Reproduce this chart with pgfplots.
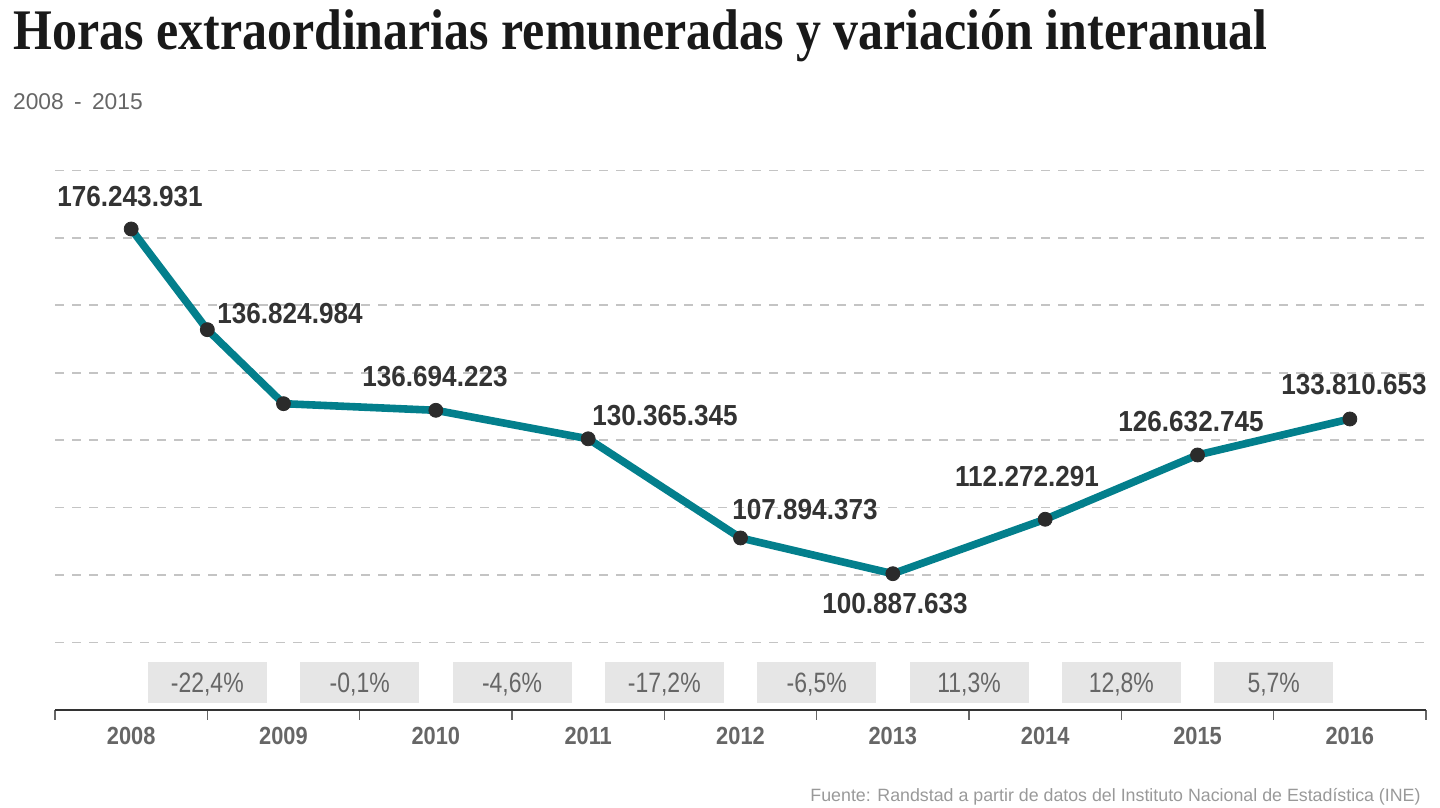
\documentclass[border=0pt]{standalone}
\usepackage{pgfplots}
\pgfplotsset{compat=1.18}
\usepackage{pgfplotstable}
\usepackage{fontspec}
\setmainfont{Liberation Sans}
\newfontfamily\titlefont[FakeStretch=0.87]{Liberation Serif}
\newfontfamily\lblfont[FakeStretch=0.9]{Liberation Sans}
\newfontfamily\yearfont[FakeStretch=0.88]{Liberation Sans}
\newfontfamily\pctfont[FakeStretch=0.82]{Liberation Sans}
\definecolor{teal1}{HTML}{037F8C}
\definecolor{dot}{HTML}{2B2B2B}
\definecolor{lbl}{HTML}{333333}
\definecolor{grey6}{HTML}{666666}
\definecolor{grid}{HTML}{C4C4C4}
\definecolor{boxg}{HTML}{E6E6E6}
\definecolor{src}{HTML}{999999}

\pgfplotstableread{
x    y
0    176.24
0.5  154.23
1    138.05
2    136.60
3    130.37
4    108.69
5    100.88
6    112.78
7    126.83
8    134.70
}\horas

\begin{document}
\begin{tikzpicture}
\begin{scope}[shift={(-27.5pt,355pt)},x=0.5pt,y=-0.5pt]
\useasboundingbox (0,0) rectangle (1440,808);
\end{scope}
\begin{axis}[
  at={(0,0)}, anchor=south west,
  x=76.1667pt, y=2.287pt,
  xmin=-0.5, xmax=8.5, ymin=71.08, ymax=189.2,
  axis x line*=bottom, axis y line*=left,
  y axis line style={draw=none},
  x axis line style={draw=lbl, line width=1pt},
  xtick={0,...,8},
  xticklabels={2008,2009,2010,2011,2012,2013,2014,2015,2016},
  major tick length=0pt,
  minor xtick={-0.5,0.5,...,8.5},
  minor tick length=5pt,
  tick align=outside,
  minor x tick style={draw=grey6, line width=0.8pt},
  ytick={85.86,100.60,115.34,130.08,144.82,159.56,174.30,189.04},
  yticklabels={},
  ytick style={draw=none},
  ymajorgrids,
  major grid style={dash pattern=on 4.5pt off 4pt, color=grid, line width=0.8pt},
  clip=false,
  xticklabel style={anchor=base, yshift=-17.5pt, text=grey6,
    font=\yearfont\bfseries\fontsize{12.4pt}{12.4pt}\selectfont},
]
\addplot[draw=teal1, line width=3.8pt, line join=round,
  mark=*, mark size=3.5pt,
  mark options={draw=dot, fill=dot, line width=0.4pt, solid}]
  table[x=x, y=y] {\horas};
\end{axis}
\begin{scope}[shift={(-27.5pt,355pt)},x=0.5pt,y=-0.5pt]
% title and subtitle
\node[anchor=base west, inner sep=0pt, text=black!90,
  font=\titlefont\bfseries\fontsize{28.7pt}{28.7pt}\selectfont]
  at (13,50) {Horas extraordinarias remuneradas y variación interanual};
\node[anchor=base west, inner sep=0pt, text=grey6,
  font=\fontsize{11.4pt}{11.4pt}\selectfont]
  at (12.7,109.3) {2008\hspace{2pt} - \hspace{2pt}2015};
% data labels
\begin{scope}[every node/.style={anchor=base, inner sep=0pt, text=lbl,
   font=\lblfont\bfseries\fontsize{14.5pt}{14.5pt}\selectfont}]
\node at (130,207) {176.243.931};
\node at (290,324) {136.824.984};
\node at (435,387) {136.694.223};
\node at (665,426) {130.365.345};
\node at (805,520) {107.894.373};
\node at (895,614) {100.887.633};
\node at (1027,487) {112.272.291};
\node at (1191,432) {126.632.745};
\node at (1354,395) {133.810.653};
\end{scope}
% yearly variation boxes
\begin{scope}[every node/.style={fill=boxg, text=grey6, inner xsep=0pt,
   inner ysep=5.25pt, text height=10pt, text depth=0pt, minimum width=59.5pt,
   font=\pctfont\fontsize{14pt}{14pt}\selectfont}]
\node at (207.3,682.5) {-22,4\%};
\node at (359.7,682.5) {-0,1\%};
\node at (512.0,682.5) {-4,6\%};
\node at (664.3,682.5) {-17,2\%};
\node at (816.7,682.5) {-6,5\%};
\node at (969.0,682.5) {11,3\%};
\node at (1121.3,682.5) {12,8\%};
\node at (1273.7,682.5) {5,7\%};
\end{scope}
% source
\node[anchor=base east, inner sep=0pt, text=src,
  font=\fontsize{8.9pt}{8.9pt}\selectfont]
  at (1421,801.7) {Fuente: Randstad a partir de datos del Instituto Nacional de Estadística (INE)};
\end{scope}
\end{tikzpicture}
\end{document}
